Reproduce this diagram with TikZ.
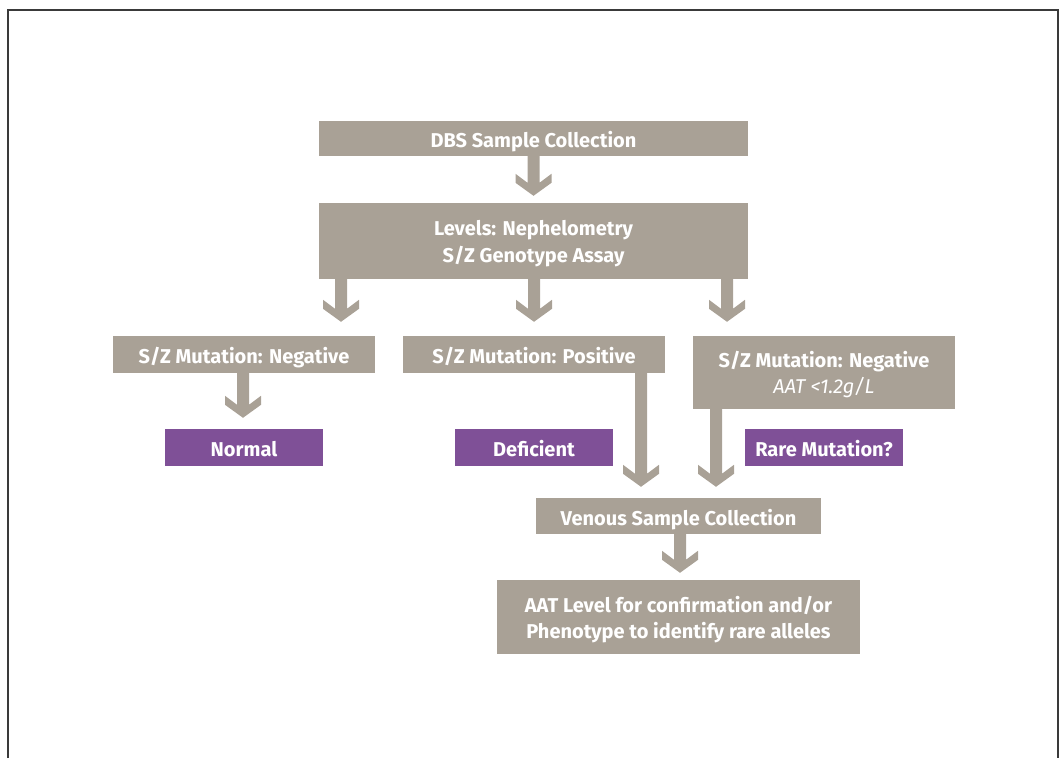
\documentclass[tikz,border=0pt]{standalone}
\usepackage{fontspec}
\setmainfont{Fira Sans}
\usepackage{tikz}
\usetikzlibrary{calc}
\definecolor{taupe}{HTML}{A9A196}
\definecolor{plum}{HTML}{7F5097}
\definecolor{frame}{HTML}{3A3A3A}
% thick down arrow: [gap above target]{x}{from}{to}
\newcommand\fatarrow[4][7]{\fill[taupe] let \p1=(#3.south), \p2=(#4.north) in
	({#2pt-6pt},\y1) -- ({#2pt-6pt},{\y2+#1pt+13pt}) -- ({#2pt-18pt},{\y2+#1pt+22pt}) -- ({#2pt-18pt},{\y2+#1pt+13pt}) --
	({#2pt},{\y2+#1pt}) -- ({#2pt+18pt},{\y2+#1pt+13pt}) -- ({#2pt+18pt},{\y2+#1pt+22pt}) -- ({#2pt+6pt},{\y2+#1pt+13pt}) --
	({#2pt+6pt},\y1) -- cycle;}

\begin{document}
\begin{tikzpicture}[x=1pt,y=1pt,
		box/.style={fill=taupe, text=white, inner sep=0pt, align=center,
			font=\fontsize{20}{26.5}\selectfont\bfseries, text height=19pt, text depth=0pt},
		twoline/.style={box, text height=43pt},
		result/.style={box, fill=plum, minimum width=158pt, minimum height=37pt}]
			%%%%% START %%%%%
			\useasboundingbox (0,0) rectangle (1060,758);
			\draw[line width=1.6pt, color=frame] (8,0) -- (8,748) -- (1058,748) -- (1058,0);
			
			\node[box, minimum width=429pt, minimum height=35pt] (dbs) at (533.5,619.5) {DBS Sample Collection};
			\node[twoline, minimum width=429pt, minimum height=76pt] (levels) at (533.5,517) {Levels: Nephelometry\\S/Z Genotype Assay};
			
			\node[box, minimum width=262pt, minimum height=37pt] (negl) at (244,403.5) {S/Z Mutation: Negative};
			\node[box, minimum width=262pt, minimum height=37pt] (pos) at (534,403.5) {S/Z Mutation: Positive};
			\node[twoline, minimum width=262pt, minimum height=73pt] (negr) at (824,385.5) {S/Z Mutation: Negative\\{\mdseries\itshape AAT <1.2g/L}};
			
			\node[result] (normal) at (244,310.5) {Normal};
			\node[result] (deficient) at (534,310.5) {Deficient};
			\node[result] (rare) at (824,310.5) {Rare Mutation?};
			
			\node[box, minimum width=285pt, minimum height=36pt] (venous) at (678.5,242) {Venous Sample Collection};
			\node[twoline, minimum width=363pt, minimum height=74pt] (aat) at (678.5,141) {AAT Level for confirmation and/or\\Phenotype to identify rare alleles};
			
			\fatarrow{533.5}{dbs}{levels}
			\fatarrow[14]{341}{levels}{negl}
			\fatarrow[14]{534}{levels}{pos}
			\fatarrow[14]{727}{levels}{negr}
			\fatarrow[11]{243}{negl}{normal}
			\fatarrow[11]{641}{pos}{venous}
			\fatarrow[11]{716}{negr}{venous}
			\fatarrow{680}{venous}{aat}
			%%%%% END %%%%%
\end{tikzpicture}
\end{document}
